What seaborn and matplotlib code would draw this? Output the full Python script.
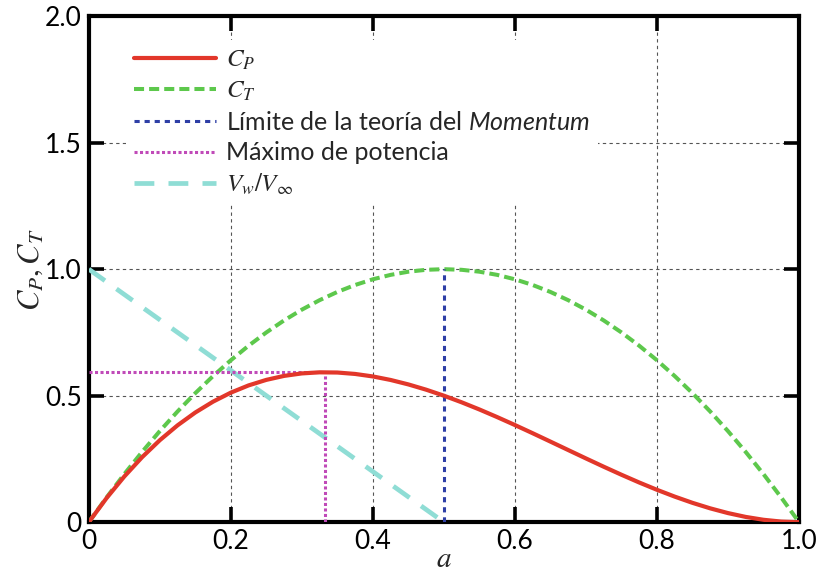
import matplotlib
matplotlib.use("Agg")
import matplotlib.pyplot as plt
import seaborn as sns
from matplotlib.ticker import FixedLocator, FixedFormatter

# Axial induction factor a
a_vals = [0.000, 0.025, 0.050, 0.075, 0.100, 0.125, 0.150, 0.175, 0.200, 0.225,
          0.250, 0.275, 0.300, 0.325, 0.350, 0.375, 0.400, 0.425, 0.450, 0.475,
          0.500, 0.525, 0.550, 0.575, 0.600, 0.625, 0.650, 0.675, 0.700, 0.725,
          0.750, 0.775, 0.800, 0.825, 0.850, 0.875, 0.900, 0.925, 0.950, 0.975,
          1.000]
# Power coefficient
cp_vals = [0.0000, 0.0951, 0.1805, 0.2567, 0.3240, 0.3828, 0.4335, 0.4764, 0.5120, 0.5406,
           0.5625, 0.5782, 0.5880, 0.5923, 0.5915, 0.5859, 0.5760, 0.5621, 0.5445, 0.5237,
           0.5000, 0.4738, 0.4455, 0.4154, 0.3840, 0.3516, 0.3185, 0.2852, 0.2520, 0.2193,
           0.1875, 0.1569, 0.1280, 0.1011, 0.0765, 0.0547, 0.0360, 0.0208, 0.0095, 0.0024,
           0.0000]
# Thrust coefficient
ct_vals = [0.0000, 0.0975, 0.1900, 0.2775, 0.3600, 0.4375, 0.5100, 0.5775, 0.6400, 0.6975,
           0.7500, 0.7975, 0.8400, 0.8775, 0.9100, 0.9375, 0.9600, 0.9775, 0.9900, 0.9975,
           1.0000, 0.9975, 0.9900, 0.9775, 0.9600, 0.9375, 0.9100, 0.8775, 0.8400, 0.7975,
           0.7500, 0.6975, 0.6400, 0.5775, 0.5100, 0.4375, 0.3600, 0.2775, 0.1900, 0.0975,
           0.0000]
# Wake velocity ratio
vw_a = [0.0, 0.5]
vw_vals = [1.0, 0.0]
# Momentum theory limit
lim_a = [0.5, 0.5]
lim_vals = [0.0, 1.0]
# Maximum power point
max_a = 0.333
max_cp = 0.593

x_ticks = [0.0, 0.2, 0.4, 0.6, 0.8, 1.0]
x_ticklabels = ["0", "0.2", "0.4", "0.6", "0.8", "1.0"]
y_ticks = [0.0, 0.5, 1.0, 1.5, 2.0]
y_ticklabels = ["0", "0.5", "1.0", "1.5", "2.0"]

sns.set_style("white")
plt.rcParams["font.family"] = ["Lato", "DejaVu Sans"]
plt.rcParams["mathtext.fontset"] = "custom"
plt.rcParams["mathtext.rm"] = "STIXGeneral"
plt.rcParams["mathtext.it"] = "STIXGeneral:italic"
plt.rcParams["mathtext.sf"] = "Lato:italic"
plt.rcParams["mathtext.fallback"] = "stix"

fig = plt.figure(figsize=(8.22, 5.77), dpi=100)
ax = fig.add_axes([0.108, 0.095, 0.864, 0.877])

sns.lineplot(x=a_vals, y=cp_vals, ax=ax, color="#E2372A", lw=3.0,
             estimator=None, sort=False, label=r"$C_P$", zorder=5)
sns.lineplot(x=a_vals, y=ct_vals, ax=ax, color="#5DC84C", lw=2.9,
             linestyle=(0, (2.5, 1.25)), estimator=None, sort=False,
             label=r"$C_T$", zorder=4)
sns.lineplot(x=lim_a, y=lim_vals, ax=ax, color="#2E3FA6", lw=2.2,
             linestyle=(0, (1.7, 1.6)), estimator=None, sort=False,
             label=r"Límite de la teoría del $\mathsf{Momentum}$", zorder=4)
sns.lineplot(x=[0.0, max_a], y=[max_cp, max_cp], ax=ax, color="#C04AB8", lw=2.2,
             linestyle=(0, (1.0, 0.8)), estimator=None, sort=False,
             label="Máximo de potencia", zorder=4)
sns.lineplot(x=[max_a, max_a], y=[0.0, max_cp], ax=ax, color="#C04AB8", lw=2.2,
             linestyle=(0, (1.0, 0.8)), estimator=None, sort=False, zorder=4)
sns.lineplot(x=vw_a, y=vw_vals, ax=ax, color="#8FDDD5", lw=3.4,
             linestyle=(0, (4.2, 3.0)), estimator=None, sort=False,
             label=r"$V_w/V_\infty$", zorder=3)

ax.set_xlim(0, 1)
ax.set_ylim(0, 2)
ax.xaxis.set_major_locator(FixedLocator(x_ticks))
ax.xaxis.set_major_formatter(FixedFormatter(x_ticklabels))
ax.yaxis.set_major_locator(FixedLocator(y_ticks))
ax.yaxis.set_major_formatter(FixedFormatter(y_ticklabels))

ax.grid(True, color="#555555", lw=0.8, linestyle=(0, (3, 3)))
ax.set_axisbelow(True)

for s in ax.spines.values():
    s.set_linewidth(3.0)
    s.set_color("black")
ax.tick_params(direction="in", length=11, width=2.6, labelsize=19,
               top=True, right=True, bottom=True, left=True, pad=5,
               colors="black")

ax.set_xlabel(r"$a$", fontsize=21, labelpad=-6)
ax.set_ylabel(r"$C_P, C_T$", fontsize=22, labelpad=0)

leg = ax.legend(loc="upper left", bbox_to_anchor=(0.035, 0.978), fontsize=18,
                frameon=True, facecolor="white", edgecolor="none", framealpha=1.0,
                handlelength=3.3, handletextpad=0.4, labelspacing=0.3,
                borderpad=0.3)
leg.set_zorder(10)

fig.savefig("out.png", dpi=100)
